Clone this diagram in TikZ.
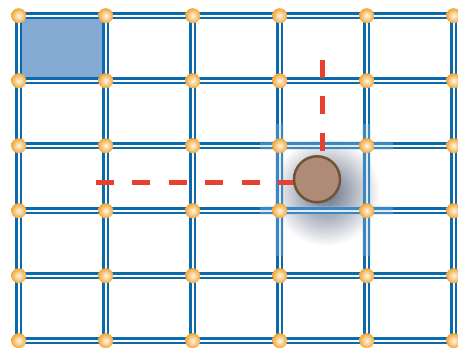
\documentclass[tikz,border=0pt]{standalone}
\usetikzlibrary{fadings}
\definecolor{gridblue}{HTML}{0A6AAC}
\definecolor{cellblue}{HTML}{82AAD3}
\definecolor{hiblue}{HTML}{A6C6E4}
\definecolor{dashred}{HTML}{E8402F}
\definecolor{ballfill}{HTML}{AE8A77}
\definecolor{balledge}{HTML}{6E5535}
\definecolor{dotin}{HTML}{FFF7EA}
\definecolor{dotout}{HTML}{F3A636}
\definecolor{shadowc}{HTML}{2E3A5A}
\tikzfading[name=shadowfade, inner color=transparent!25, outer color=transparent!100]
\tikzset{
  gridline/.style={draw=gridblue, line width=2.5pt, double=white, double distance=2pt},
  highlight/.style={draw=hiblue, line width=9pt, opacity=0.32},
  dotnode/.style={circle, minimum size=15pt, inner sep=0pt, shading=radial, inner color=dotin, outer color=dotout},
  reddash/.style={draw=dashred, line width=5pt, dash pattern=on 18pt off 18.4pt},
  ballnode/.style={circle, minimum size=46pt, inner sep=0pt, fill=ballfill, draw=balledge, line width=2.5pt}
}
\begin{document}
\begin{tikzpicture}[x=1pt,y=-1pt]
\useasboundingbox (0,0) rectangle (458,348);
% coordinates of grid points
\foreach \c in {0,...,5}{
  \foreach \r in {0,...,5}{
    \coordinate (p-\c-\r) at ({18.7+87*\c},{15.7+65*\r});
  }
}
% filled cell
\fill[cellblue] (p-0-0) rectangle (p-1-1);
% shadow of the ball
\fill[shadowc, path fading=shadowfade] (326,192) circle (54);
% grid lines
\foreach \r in {0,...,5}{
  \draw[gridline] (p-0-\r) -- (p-5-\r);
}
\foreach \c in {0,...,5}{
  \draw[gridline] (p-\c-0) -- (p-\c-5);
}
% highlight around the ball's cell
\draw[highlight] ([xshift=-20pt]p-3-2) -- ([xshift=26pt]p-4-2);
\draw[highlight] ([xshift=-20pt]p-3-3) -- ([xshift=26pt]p-4-3);
\draw[highlight] ([yshift=22pt]p-3-2) -- ([yshift=-45pt]p-3-3);
\draw[highlight] ([yshift=22pt]p-4-2) -- ([yshift=-45pt]p-4-3);
% dots
\foreach \c in {0,...,5}{
  \foreach \r in {0,...,5}{
    \node[dotnode] (d-\c-\r) at (p-\c-\r) {};
  }
}
% dashed path
\coordinate (hstart) at (96,182.8);
\coordinate (vstart) at (322.7,60);
\coordinate (corner) at (322.7,182.8);
\draw[reddash] (hstart) -- (corner);
\draw[reddash] (vstart) -- (corner);
% ball
\node[ballnode] (ball) at (317,179.3) {};
\end{tikzpicture}
\end{document}
